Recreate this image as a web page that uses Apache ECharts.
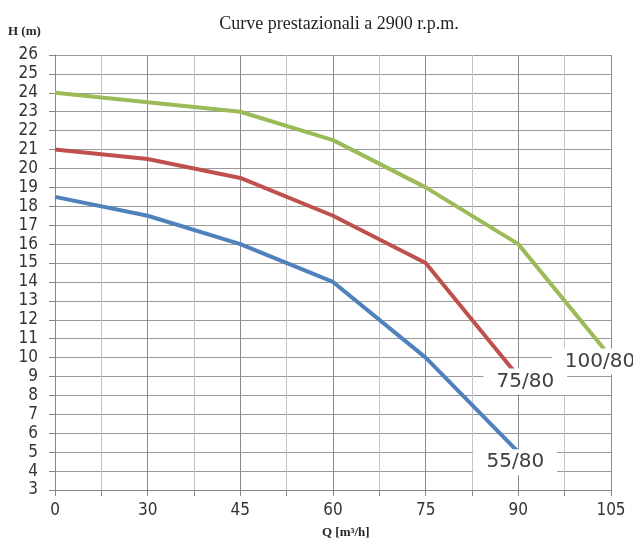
<!DOCTYPE html>
<html>
<head>
<meta charset="utf-8">
<script src="https://cdn.jsdelivr.net/npm/echarts@6/dist/echarts.min.js"></script>
<style>
html,body{margin:0;padding:0;background:#fff;}
#c{width:633px;height:544px;}
</style>
</head>
<body>
<div id="c"></div>
<script>
// Q tick labels (m3/h), one per major grid position
var qLabels = ['0', '30', '45', '60', '75', '90', '105'];
// Series names
var seriesNames = ['55/80', '75/80', '100/80'];
// Head values H (m) at each Q label position
var h55 = [18.5, 17.5, 16, 14, 10, 5];
var h75 = [21, 20.5, 19.5, 17.5, 15, 9];
var h100 = [24, 23.5, 23, 21.5, 19, 16, 10];

var colors = ['#4F81BD', '#C0504D', '#9BBB59'];
var labelOffsets = [[-3, 10], [7, 5], [-11, 4]];

function build(vals, idx) {
  return vals.map(function (v, i) {
    var item = { value: [i, v] };
    if (i === vals.length - 1) {
      item.label = {
        show: true,
        position: 'inside',
        offset: labelOffsets[idx],
        formatter: seriesNames[idx],
        fontFamily: 'DejaVu Sans',
        fontSize: 20,
        color: '#404040',
        backgroundColor: '#ffffff',
        padding: [3, 13, 3, 13]
      };
    }
    return item;
  });
}

var allVals = [h55, h75, h100];
var series = allVals.map(function (vals, idx) {
  return {
    name: seriesNames[idx],
    type: 'line',
    data: build(vals, idx),
    symbol: 'circle',
    symbolSize: 0.01,
    showSymbol: true,
    lineStyle: { color: colors[idx], width: 4 },
    itemStyle: { color: colors[idx] },
    label: { show: false },
    z: 3 + idx
  };
});

var chart = echarts.init(document.getElementById('c'), null, { renderer: 'canvas' });
chart.setOption({
  animation: false,
  backgroundColor: '#ffffff',
  title: {
    text: 'Curve prestazionali a 2900 r.p.m.',
    left: 334,
    textAlign: 'center',
    top: 10,
    textStyle: { fontFamily: 'Liberation Serif', fontSize: 18, fontWeight: 'normal', color: '#1f1f1f' }
  },
  graphic: [
    { type: 'text', left: 8, top: 25, style: { text: 'H (m)', font: 'bold 13px "Liberation Serif"', fill: '#262626' } },
    { type: 'text', left: 322, top: 526, style: { text: 'Q [m\u00B3/h]', font: 'bold 13px "Liberation Serif"', fill: '#262626' } }
  ],
  grid: { left: 55, top: 55, right: 22, bottom: 54, containLabel: false },
  xAxis: {
    type: 'value',
    min: 0,
    max: qLabels.length - 1,
    interval: 0.5,
    axisLine: { show: true, lineStyle: { color: '#868686', width: 1 } },
    axisTick: { show: true, length: 6, lineStyle: { color: '#868686' } },
    axisLabel: {
      margin: 12,
      fontFamily: 'DejaVu Sans Condensed',
      fontSize: 17,
      color: '#333333',
      formatter: function (v) {
        return Number.isInteger(v) ? qLabels[v] : '';
      }
    },
    splitLine: { show: true, lineStyle: { color: ['#8a8a8a', '#c4c4c4'], width: 1 } }
  },
  yAxis: {
    type: 'value',
    min: 3,
    max: 26,
    interval: 1,
    axisLine: { show: true, lineStyle: { color: '#868686', width: 1 } },
    axisTick: { show: true, length: 6, lineStyle: { color: '#868686' } },
    axisLabel: {
      margin: 17,
      fontFamily: 'DejaVu Sans Condensed',
      fontSize: 17,
      color: '#333333'
    },
    splitLine: { show: true, lineStyle: { color: '#999999', width: 1 } }
  },
  series: series
});
</script>
</body>
</html>
